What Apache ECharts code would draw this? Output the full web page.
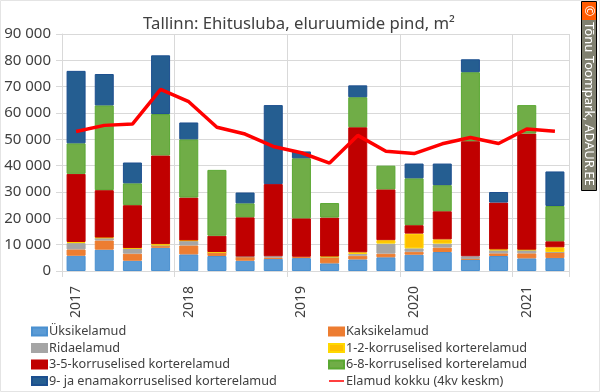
<!DOCTYPE html>
<html>
<head>
<meta charset="utf-8">
<script src="https://cdn.jsdelivr.net/npm/echarts@6/dist/echarts.min.js"></script>
<style>
  html, body { margin: 0; padding: 0; background: #fff; }
  #chart { width: 600px; height: 392px; }
</style>
</head>
<body>
<div id="chart"></div>
<script>
// kvartalid 2017 Q1 - 2021 Q2, silt ainult aasta esimesel kvartalil
const categories = ['2017', '', '', '', '2018', '', '', '', '2019', '', '', '', '2020', '', '', '', '2021', ''];

const yksik = [5800, 8100, 3900, 8800, 6300, 5700, 3900, 4600, 4900, 2900, 4400, 5200, 6200, 7200, 4400, 5700, 4800, 4900];
const kaksik = [2400, 3500, 2700, 800, 3400, 1300, 1500, 500, 500, 2300, 1400, 1400, 1100, 1700, 200, 1000, 1900, 2200];
const rida = [2400, 1000, 2000, 100, 1800, 100, 100, 500, null, 100, 700, 3800, 1300, 1500, 1000, 1200, 1300, 100];
const korrus12 = [400, 100, 100, 500, 100, 100, null, null, null, 200, 600, 1300, 5600, 1600, null, 300, 100, 1800];
const korrus35 = [25900, 18000, 16300, 33700, 16300, 6200, 14900, 27400, 14600, 14800, 47500, 19300, 3200, 10700, 43700, 17800, 44100, 2300];
const korrus68 = [11600, 32200, 8300, 15700, 22100, 25000, 5300, null, 22800, 5500, 11400, 9000, 17800, 9900, 26200, null, 10800, 13400];
const korrus9 = [27500, 11900, 7900, 22300, 6400, null, 4100, 30000, 2600, null, 4500, null, 5600, 8200, 4900, 4000, null, 13100];
const kokku = [53000, 55300, 55800, 69000, 64300, 54600, 52000, 47300, 44900, 41000, 51500, 45500, 44600, 48300, 50700, 48400, 53900, 53100];

const fontName = 'Noto Sans';
const gridColor = '#d9d9d9';
const textColor = '#404040';

function bar(name, data, color, border) {
  return {
    name: name,
    type: 'bar',
    stack: 'pind',
    barWidth: 19,
    data: data,
    itemStyle: { color: color, borderColor: border, borderWidth: 1 }
  };
}

function legendCol(left, names) {
  return {
    left: left,
    top: 320,
    height: 90,
    orient: 'vertical',
    icon: 'rect',
    itemWidth: 15,
    itemHeight: 8,
    itemGap: 3.5,
    textStyle: { fontFamily: fontName, fontSize: 12.7, color: textColor, padding: [0, 0, 0, -3] },
    data: names
  };
}

const chart = echarts.init(document.getElementById('chart'), null, { renderer: 'canvas' });

const option = {
  animation: false,
  backgroundColor: '#fff',
  title: {
    text: 'Tallinn: Ehitusluba, eluruumide pind, m²',
    left: 294,
    top: 11,
    textAlign: 'center',
    textStyle: { fontFamily: fontName, fontSize: 16.7, fontWeight: 'normal', color: textColor }
  },
  grid: { left: 62, right: 31, top: 34, bottom: 121 },
  legend: [
    legendCol(26, ['Üksikelamud', 'Ridaelamud', '3-5-korruselised korterelamud', '9- ja enamakorruselised korterelamud']),
    legendCol(323, ['Kaksikelamud', '1-2-korruselised korterelamud', '6-8-korruselised korterelamud',
      // joone ikoon: kitsas riba keset kasti
      { name: 'Elamud kokku (4kv keskm)', icon: 'path://M0 0h0.01v0.01h-0.01z M0 3.2h15v1.6h-15z M14.99 7.99h0.01v0.01h-0.01z' }])
  ],
  xAxis: {
    type: 'category',
    data: categories,
    axisLine: { lineStyle: { color: gridColor } },
    axisTick: {
      show: true,
      length: 6,
      interval: function (index) { return index % 4 === 0; },
      lineStyle: { color: gridColor }
    },
    splitLine: {
      show: true,
      interval: function (index) { return index % 4 === 0; },
      lineStyle: { color: gridColor, width: 1 }
    },
    axisLabel: {
      interval: 0,
      rotate: 90,
      margin: 15,
      fontFamily: fontName,
      fontSize: 14,
      color: textColor
    }
  },
  yAxis: {
    type: 'value',
    min: 0,
    max: 90000,
    interval: 10000,
    axisLine: { show: true, lineStyle: { color: gridColor } },
    axisTick: { show: true, length: 6, lineStyle: { color: gridColor } },
    splitLine: { lineStyle: { color: gridColor } },
    axisLabel: {
      margin: 11,
      fontFamily: fontName,
      fontSize: 15,
      color: textColor,
      formatter: function (v) { return String(v).replace(/\B(?=(\d{3})+$)/g, ' '); }
    }
  },
  series: [
    bar('Üksikelamud', yksik, '#5b9bd5', '#4a90d0'),
    bar('Kaksikelamud', kaksik, '#ed7d31', '#ed7d31'),
    bar('Ridaelamud', rida, '#a5a5a5', '#a5a5a5'),
    bar('1-2-korruselised korterelamud', korrus12, '#ffc000', '#ffd800'),
    bar('3-5-korruselised korterelamud', korrus35, '#c00000', '#c00000'),
    bar('6-8-korruselised korterelamud', korrus68, '#70ad47', '#5aa832'),
    bar('9- ja enamakorruselised korterelamud', korrus9, '#255e91', '#1c4f8f'),
    {
      name: 'Elamud kokku (4kv keskm)',
      type: 'line',
      data: kokku,
      showSymbol: false,
      symbol: 'none',
      z: 5,
      lineStyle: { color: '#ff0000', width: 3.5 },
      itemStyle: { color: '#ff0000' }
    }
  ],
  graphic: [
    // autori tempel paremal ylal
    { type: 'rect', shape: { x: 581.5, y: 1.5, width: 15, height: 189 }, style: { fill: '#808070', stroke: '#000', lineWidth: 1 }, z: 10 },
    { type: 'rect', shape: { x: 582, y: 2, width: 14, height: 18 }, style: { fill: '#ff5a00' }, z: 11 },
    {
      type: 'text', x: 589, y: 11, rotation: -Math.PI / 2, z: 12,
      style: { text: '©', fill: '#fff', font: '13px "Noto Sans"', align: 'center', verticalAlign: 'middle' }
    },
    {
      type: 'text', x: 589, y: 22, rotation: -Math.PI / 2, z: 12,
      style: { text: 'Tõnu Toompark, ADAUR.EE', fill: '#fff', font: '13px "Noto Sans"', align: 'left', verticalAlign: 'middle' }
    },
    // pildi raam
    { type: 'rect', shape: { x: 0.5, y: 0.5, width: 599, height: 391 }, style: { fill: 'none', stroke: '#e4e4e4', lineWidth: 1 }, z: 9 }
  ]
};

chart.setOption(option);
</script>
</body>
</html>
